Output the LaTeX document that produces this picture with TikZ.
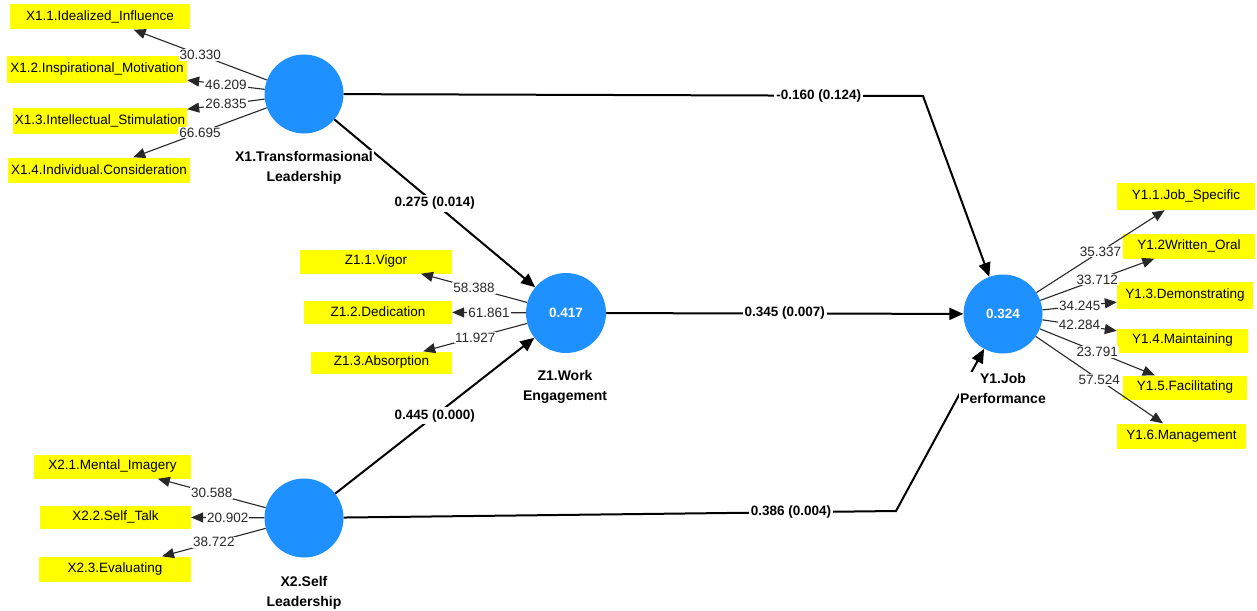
\documentclass[tikz,border=0pt]{standalone}
\usepackage{fontspec}
\setmainfont{Liberation Sans}
\usetikzlibrary{arrows.meta}
\definecolor{lvblue}{RGB}{30,144,255}
\definecolor{indyellow}{RGB}{255,255,0}
\definecolor{lbl}{RGB}{40,40,40}
\begin{document}
\begin{tikzpicture}[x=1pt,y=-1pt,
 lv/.style={circle,fill=lvblue,draw=none,minimum size=79pt,inner sep=0pt,text=white,font=\fontsize{13.5}{16}\selectfont\bfseries},
 mv/.style={rectangle,fill=indyellow,draw=none,inner sep=0pt,font=\fontsize{13.5}{16}\selectfont},
 ld/.style={draw=lbl,line width=1.1pt,-{Triangle[length=12pt,width=10pt]}},
 pth/.style={draw=black,line width=2pt,line join=miter,-{Triangle[length=14pt,width=12pt]}},
 lw/.style={fill=white,inner sep=1pt,text=lbl,font=\fontsize{13.5}{16}\selectfont},
 pl/.style={fill=white,inner sep=2pt,font=\fontsize{13.5}{16}\selectfont\bfseries},
 lvname/.style={fill=white,inner sep=1pt,align=center,font=\fontsize{14}{20}\selectfont\bfseries}]
\useasboundingbox[fill=white] (0,0) rectangle (1257,610);

% latent variables
\node[lv] (X1) at (304,94) {};
\node[lv] (X2) at (304,518) {};
\node[lv,minimum size=80pt] (Z1) at (566,313) {0.417};
\node[lv] (Y1) at (1003,314) {0.324};

% indicators
\node[mv,minimum width=180pt,minimum height=25pt] (x11) at (100,17) {X1.1.Idealized\_Influence};
\node[mv,minimum width=180pt,minimum height=26pt] (x12) at (97,69.5) {X1.2.Inspirational\_Motivation};
\node[mv,minimum width=174pt,minimum height=26pt] (x13) at (100,120.5) {X1.3.Intellectual\_Stimulation};
\node[mv,minimum width=182pt,minimum height=25pt] (x14) at (99,170) {X1.4.Individual.Consideration};

\node[mv,minimum width=152pt,minimum height=24pt] (z11) at (376,261.5) {Z1.1.Vigor};
\node[mv,minimum width=148pt,minimum height=23pt] (z12) at (378,312) {Z1.2.Dedication};
\node[mv,minimum width=141pt,minimum height=22pt] (z13) at (381.5,362.5) {Z1.3.Absorption};

\node[mv,minimum width=157pt,minimum height=24pt] (x21) at (112.5,466.5) {X2.1.Mental\_Imagery};
\node[mv,minimum width=151pt,minimum height=23pt] (x22) at (115.5,517) {X2.2.Self\_Talk};
\node[mv,minimum width=152pt,minimum height=25pt] (x23) at (115,569) {X2.3.Evaluating};

\node[mv,minimum width=138pt,minimum height=27pt] (y11) at (1186,196.5) {Y1.1.Job\_Specific};
\node[mv,minimum width=132pt,minimum height=25pt] (y12) at (1189,246) {Y1.2Written\_Oral};
\node[mv,minimum width=136pt,minimum height=27pt] (y13) at (1185,295) {Y1.3.Demonstrating};
\node[mv,minimum width=131pt,minimum height=24pt] (y14) at (1182.5,340.5) {Y1.4.Maintaining};
\node[mv,minimum width=124pt,minimum height=24pt] (y15) at (1185,387.5) {Y1.5.Facilitating};
\node[mv,minimum width=129pt,minimum height=25pt] (y16) at (1181.5,436) {Y1.6.Management};

% bend points
\coordinate (b1) at (923,96);
\coordinate (b2) at (896,511);

% structural paths
\draw[pth] (X1) -- node[pl,pos=0.82]{-0.160 (0.124)} (b1) -- (Y1);
\draw[pth] (X2) -- node[pl,pos=0.81]{0.386 (0.004)} (b2) -- (Y1);
\draw[pth] (X1) -- node[pl,midway]{0.275 (0.014)} (Z1);
\draw[pth] (X2) -- node[pl,midway]{0.445 (0.000)} (Z1);
\draw[pth] (Z1) -- node[pl,midway]{0.345 (0.007)} (Y1);

% loadings
\draw[ld] (X1) -- node[lw,midway]{30.330} (x11);
\draw[ld] (X1) -- node[lw,midway]{46.209} (x12);
\draw[ld] (X1) -- node[lw,midway]{26.835} (x13);
\draw[ld] (X1) -- node[lw,midway]{66.695} (x14);

\draw[ld] (Z1) -- node[lw,midway]{58.388} (z11);
\draw[ld] (Z1) -- node[lw,midway]{61.861} (z12);
\draw[ld] (Z1) -- node[lw,midway]{11.927} (z13);

\draw[ld] (X2) -- node[lw,midway]{30.588} (x21);
\draw[ld] (X2) -- node[lw,midway]{20.902} (x22);
\draw[ld] (X2) -- node[lw,midway]{38.722} (x23);

\draw[ld] (Y1) -- node[lw,midway]{35.337} (y11);
\draw[ld] (Y1) -- node[lw,midway]{33.712} (y12);
\draw[ld] (Y1) -- node[lw,midway]{34.245} (y13);
\draw[ld] (Y1) -- node[lw,midway]{42.284} (y14);
\draw[ld] (Y1) -- node[lw,midway]{23.791} (y15);
\draw[ld] (Y1) -- node[lw,midway]{57.524} (y16);

% latent names
\node[lvname] (X1n) at (304,168) {X1.Transformasional\\Leadership};
\node[lvname] (Z1n) at (565,387) {Z1.Work\\Engagement};
\node[lvname] (Y1n) at (1003,388) {Y1.Job\\Performance};
\node[lvname] (X2n) at (304,593) {X2.Self\\Leadership};
\end{tikzpicture}
\end{document}
